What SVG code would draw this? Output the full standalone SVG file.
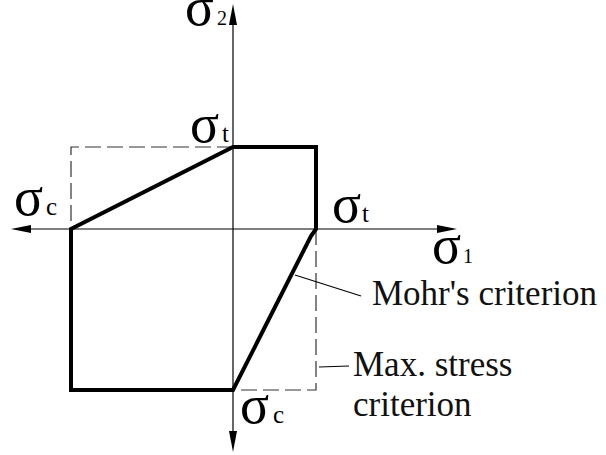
<svg xmlns="http://www.w3.org/2000/svg" width="606" height="455" viewBox="0 0 606 455">
<style>
.axis{stroke:#000;stroke-width:1.2;fill:none}
.head{fill:#000;stroke:none}
.thick{stroke:#000;stroke-width:4;fill:none;stroke-linejoin:miter}
.dash{stroke:#333;stroke-width:1.2;fill:none;stroke-dasharray:16 6}
.lead{stroke:#000;stroke-width:1.1;fill:none}
</style>
<rect width="606" height="455" fill="#fff"/>
<g id="axes">
<line class="axis" x1="233" y1="20" x2="233" y2="436"/>
<line class="axis" x1="26" y1="229" x2="441" y2="229"/>
<polygon class="head" points="233,4 229,25 237,25"/>
<polygon class="head" points="233,452 229,431 237,431"/>
<polygon class="head" points="11,229 31,225 31,233"/>
<polygon class="head" points="457,229 437,225 437,233"/>
</g>
<g id="max-stress">
<polyline class="dash" points="233,147 71,147 71,229"/>
<polyline class="dash" points="316,229 316,390 233,390"/>
</g>
<g id="mohr">
<polygon class="thick" points="233,147 316,147 316,229 311,236 233,390 71,390 71,229"/>
</g>
<g id="connectors">
<line class="lead" x1="295" y1="275" x2="361" y2="296"/>
<line class="lead" x1="319" y1="367" x2="349" y2="366"/>
</g>
<g id="labels" font-family="Liberation Serif, Times New Roman, serif" fill="#000">
<g id="sigma2"><text font-size="54" x="185" y="25">σ</text><text font-size="20" x="217" y="25">2</text></g>
<g id="sigma-t-top"><text font-size="54" x="190" y="142">σ</text><text font-size="25" x="222" y="142">t</text></g>
<g id="sigma-c-left"><text font-size="54" x="14" y="215">σ</text><text font-size="25" x="46" y="215">c</text></g>
<g id="sigma-t-right"><text font-size="54" x="332" y="222">σ</text><text font-size="25" x="362" y="222">t</text></g>
<g id="sigma1"><text font-size="54" x="432" y="263">σ</text><text font-size="20" x="463" y="263">1</text></g>
<g id="sigma-c-bottom"><text font-size="54" x="240" y="423">σ</text><text font-size="25" x="273" y="423">c</text></g>
<text font-size="35" fill="#111" x="372" y="305">Mohr's criterion</text>
<text font-size="35" fill="#111" x="353" y="376">Max. stress</text>
<text font-size="35" fill="#111" x="353" y="416">criterion</text>
</g>
</svg>
